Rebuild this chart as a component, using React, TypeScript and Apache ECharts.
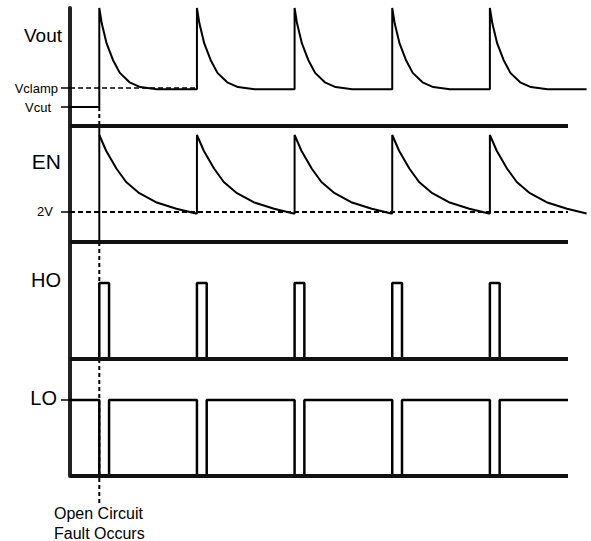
import React, { useEffect, useRef } from "react";
import * as echarts from "echarts";

// ---- Data (time in µs-like units, one switching period = 10) ----
const PULSES = [10, 20, 30, 40, 50];
const PULSE_WIDTH = 1;
const T_START = 7;
const T_AXIS_END = 58;
const T_VIEW_END = 60;
const T_TRACE_END = 59.9;

// Vout panel (arbitrary volts, 0..10)
const VOUT_MAX = 10;
const VCUT = 1.61;
const VCLAMP = 3.22;
const VOUT_SETTLE = 3.12;
const VOUT_SHAPE_T = [0, 0.25, 0.75, 1.4, 2.1, 3.1, 4.2, 5.9];
const VOUT_SHAPE_V = [10, 8.7, 7.0, 5.6, 4.5, 3.7, 3.3, 3.12];
const VOUT_LABEL_POS = 7.71;

// EN panel (volts)
const EN_MAX = 7.73;
const EN_THRESHOLD = 2;
const EN_SHAPE_T = [0, 0.7, 1.75, 2.75, 4.1, 5.8, 7.9, 9.9];
const EN_SHAPE_V = [7.13, 6.08, 4.9, 4.0, 3.25, 2.65, 2.22, 1.9];
const EN_LABEL_POS = 5.37;

// HO / LO panels (logic levels)
const LOGIC_MAX = 1.54;
const HO_LABEL_POS = 1.046;
const LO_LABEL_POS = 1.033;
const FAULT_TAIL = -0.355;

const LABEL_NAMES = {
  vout: "Vout",
  vclamp: "Vclamp",
  vcut: "Vcut",
  en: "EN",
  v2: "2V",
  ho: "HO",
  lo: "LO",
};

const FONT = "Liberation Sans, Arial, sans-serif";

function buildVout() {
  const pts: number[][] = [[T_START, VCUT], [PULSES[0], VCUT]];
  PULSES.forEach((p, i) => {
    if (i > 0) pts.push([p, VOUT_SETTLE]);
    VOUT_SHAPE_T.forEach((dt, j) => pts.push([p + dt, VOUT_SHAPE_V[j]]));
  });
  pts.push([T_TRACE_END, VOUT_SETTLE]);
  return pts;
}

function buildEN() {
  const pts: number[][] = [];
  const last = EN_SHAPE_V[EN_SHAPE_V.length - 1];
  PULSES.forEach((p, i) => {
    if (i > 0) pts.push([p, last]);
    EN_SHAPE_T.forEach((dt, j) => pts.push([p + dt, EN_SHAPE_V[j]]));
  });
  return pts;
}

function buildHO() {
  const pts: number[][] = [[T_START, 0]];
  PULSES.forEach((p) => {
    pts.push([p, 0], [p, 1], [p + PULSE_WIDTH, 1], [p + PULSE_WIDTH, 0]);
  });
  pts.push([T_AXIS_END, 0]);
  return pts;
}

function buildLO() {
  const pts: number[][] = [[T_START, 1]];
  PULSES.forEach((p) => {
    pts.push([p, 1], [p, 0], [p + PULSE_WIDTH, 0], [p + PULSE_WIDTH, 1]);
  });
  pts.push([T_AXIS_END, 1]);
  return pts;
}

function near(a: number, b: number) {
  return Math.abs(a - b) < 1e-3;
}

export default function App() {
  const ref = useRef<HTMLDivElement>(null);

  useEffect(() => {
    if (!ref.current) return;
    const chart = echarts.init(ref.current, null, { renderer: "svg" });

    const pxPerUnit = 498 / (T_AXIS_END - T_START);
    const gridWidth = pxPerUnit * (T_VIEW_END - T_START);

    const gridTops = [8, 126, 242, 359];
    const gridHeights = [118, 116, 117, 117];
    const grids = gridTops.map((top, i) => ({
      left: 70,
      top,
      width: gridWidth,
      height: gridHeights[i],
    }));

    const xAxes = grids.map((_, i) => ({
      type: "value",
      gridIndex: i,
      min: T_START,
      max: T_VIEW_END,
      axisLine: { show: false },
      axisTick: { show: false },
      axisLabel: { show: false },
      splitLine: { show: false },
    }));

    const rich = {
      vout: { fontSize: 19, fontFamily: FONT, color: "#000", padding: [0, 0, 0, 0] },
      vclamp: { fontSize: 13, fontFamily: FONT, color: "#000", padding: [0, 4, 0, 0] },
      vcut: { fontSize: 13, fontFamily: FONT, color: "#000", padding: [0, 11, 0, 0] },
      en: { fontSize: 21, fontFamily: FONT, color: "#000", padding: [0, 1, 0, 0] },
      v2: { fontSize: 13, fontFamily: FONT, color: "#000", padding: [0, 9, 0, 0] },
      ho: { fontSize: 20, fontFamily: FONT, color: "#000", padding: [0, 1, 0, 0] },
      lo: { fontSize: 20, fontFamily: FONT, color: "#000", padding: [0, 5, 0, 0] },
    };

    const makeY = (
      i: number,
      max: number,
      labels: [number, string][],
      ticks: number[]
    ) => ({
      type: "value",
      gridIndex: i,
      min: 0,
      max,
      axisLine: { show: true, lineStyle: { color: "#222", width: 4 } },
      splitLine: { show: false },
      axisTick: {
        show: ticks.length > 0,
        customValues: ticks,
        length: 9,
        lineStyle: { color: "#000", width: 1.5 },
      },
      axisLabel: {
        show: true,
        customValues: labels.map((l) => l[0]),
        margin: 8,
        rich,
        formatter: (v: number) => {
          const f = labels.find((l) => near(l[0], v));
          if (!f) return "";
          return `{${f[1]}|${(LABEL_NAMES as any)[f[1]]}}`;
        },
      },
    });

    const yAxes = [
      makeY(
        0,
        VOUT_MAX,
        [
          [VCUT, "vcut"],
          [VCLAMP, "vclamp"],
          [VOUT_LABEL_POS, "vout"],
        ],
        [VCUT, VCLAMP]
      ),
      makeY(
        1,
        EN_MAX,
        [
          [EN_THRESHOLD, "v2"],
          [EN_LABEL_POS, "en"],
        ],
        [EN_THRESHOLD]
      ),
      makeY(2, LOGIC_MAX, [[HO_LABEL_POS, "ho"]], []),
      makeY(3, LOGIC_MAX, [[LO_LABEL_POS, "lo"]], [1]),
    ];

    const line = (
      name: string,
      idx: number,
      data: number[][],
      width: number,
      type: any = "solid",
      clip = true,
      color = "#000",
      z = 3
    ) => ({
      name,
      type: "line",
      xAxisIndex: idx,
      yAxisIndex: idx,
      data,
      symbol: "none",
      clip,
      silent: true,
      lineStyle: { color, width, type, cap: "butt" },
      z,
    });

    const faultX = PULSES[0];

    const series = [
      // panel separators (bottom edge of each panel)
      ...[0, 1, 2, 3].map((i) =>
        line(`sep${i}`, i, [[T_START, 0], [T_AXIS_END, 0]], 4, "solid", false, "#111", 4)
      ),
      // reference levels
      line("Vclamp", 0, [[T_START, VCLAMP], [PULSES[1], VCLAMP]], 1.5, [5, 3]),
      line("2V", 1, [[T_START, EN_THRESHOLD], [T_AXIS_END, EN_THRESHOLD]], 2, [5, 3]),
      // fault marker
      line("fault-vout", 0, [[faultX, VCUT], [faultX, 0]], 2, [4, 3]),
      line("fault-en", 1, [[faultX, 0], [faultX, EN_MAX]], 2, "solid"),
      line("fault-ho", 2, [[faultX, LOGIC_MAX], [faultX, 1]], 2, [4, 3]),
      line("fault-lo", 3, [[faultX, LOGIC_MAX], [faultX, FAULT_TAIL]], 2, [4, 3], false),
      // signals
      line("Vout", 0, buildVout(), 2, "solid", false),
      line("EN", 1, buildEN(), 2, "solid", false),
      line("HO", 2, buildHO(), 2.5),
      line("LO", 3, buildLO(), 2.5),
    ];

    chart.setOption({
      animation: false,
      backgroundColor: "#fff",
      grid: grids,
      xAxis: xAxes,
      yAxis: yAxes,
      series,
      graphic: [
        {
          type: "text",
          left: 54,
          top: 503,
          style: {
            text: "Open Circuit\nFault Occurs",
            fontSize: 16,
            lineHeight: 20,
            fontFamily: FONT,
            fill: "#000",
          },
        },
      ],
    });

    return () => chart.dispose();
  }, []);

  return (
    <div
      ref={ref}
      style={{ position: "fixed", left: 0, top: 0, width: 591, height: 541 }}
    />
  );
}
